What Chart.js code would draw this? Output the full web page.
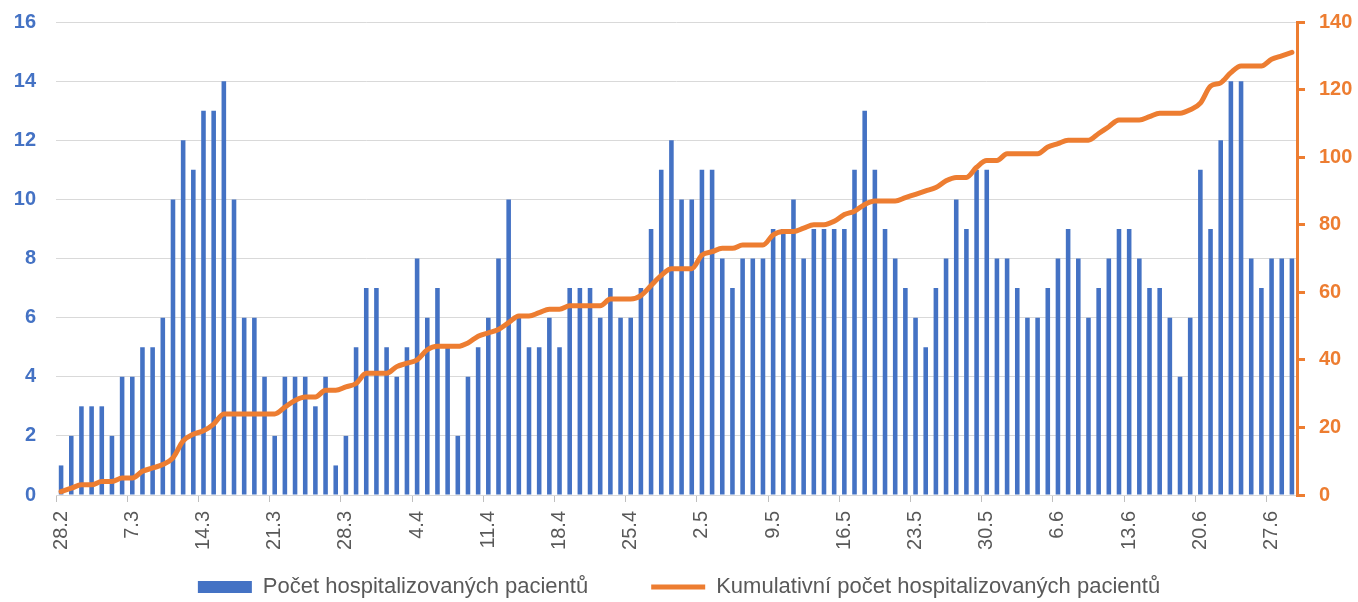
<!DOCTYPE html>
<html lang="cs">
<head>
<meta charset="utf-8">
<title>Hospitalizovaní pacienti</title>
<script src="https://cdn.jsdelivr.net/npm/chart.js@4.4.1/dist/chart.umd.min.js"></script>
<style>
  html, body { margin: 0; padding: 0; background: #ffffff; }
  #wrap { width: 1358px; height: 602px; position: relative; }
</style>
</head>
<body>
<div id="wrap"><canvas id="hosp-chart"></canvas></div>
<script>
// Daily counts (bars) and cumulative line, one value per day from 28.2 to 29.6
const dailyPatients = [
  1, 2, 3, 3, 3, 2, 4, 4, 5, 5, 6, 10, 12, 11, 13, 13, 14, 10, 6, 6,
  4, 2, 4, 4, 4, 3, 4, 1, 2, 5, 7, 7, 5, 4, 5, 8, 6, 7, 5, 2, 4,
  5, 6, 8, 10, 6, 5, 5, 6, 5, 7, 7, 7, 6, 7, 6, 6, 7, 9, 11, 12, 10,
  10, 11, 11, 8, 7, 8, 8, 8, 9, 9, 10, 8, 9, 9, 9, 9, 11, 13, 11, 9,
  8, 7, 6, 5, 7, 8, 10, 9, 11, 11, 8, 8, 7, 6, 6, 7, 8, 9, 8, 6, 7,
  8, 9, 9, 8, 7, 7, 6, 4, 6, 11, 9, 12, 14, 14, 8, 7, 8, 8, 8
];

const cumulativePatients = [
  1, 2, 3, 3, 4, 4, 5, 5, 7, 8, 9, 11, 16, 18, 19, 21, 24, 24, 24, 24,
  24, 24, 26, 28, 29, 29, 31, 31, 32, 33, 36, 36, 36, 38, 39, 40, 43, 44, 44, 44, 45,
  47, 48, 49, 51, 53, 53, 54, 55, 55, 56, 56, 56, 56, 58, 58, 58, 59, 62, 65, 67, 67,
  67, 71, 72, 73, 73, 74, 74, 74, 77, 78, 78, 79, 80, 80, 81, 83, 84, 86, 87, 87,
  87, 88, 89, 90, 91, 93, 94, 94, 97, 99, 99, 101, 101, 101, 101, 103, 104, 105, 105, 105, 107,
  109, 111, 111, 111, 112, 113, 113, 113, 114, 116, 121, 122, 125, 127, 127, 127, 129, 130, 131
];

const seriesNames = ['Počet hospitalizovaných pacientů', 'Kumulativní počet hospitalizovaných pacientů'];

// Day labels "d.m", every day from 28.2.
const dayLabels = [];
const startDay = new Date(2021, 1, 28);
for (let i = 0; i < dailyPatients.length; i++) {
  const d = new Date(startDay);
  d.setDate(startDay.getDate() + i);
  dayLabels.push(d.getDate() + '.' + (d.getMonth() + 1));
}

const BLUE = '#4472C4';
const ORANGE = '#ED7D31';
const GRID = '#d9d9d9';
const TEXT = '#595959';

Chart.defaults.font.family = "'Liberation Sans', Arial, sans-serif";

const ctx = document.getElementById('hosp-chart').getContext('2d');
window.hospChart = new Chart(ctx, {
  data: {
    labels: dayLabels,
    datasets: [
      {
        type: 'bar',
        label: seriesNames[0],
        data: dailyPatients,
        backgroundColor: BLUE,
        borderWidth: 0,
        barPercentage: 0.45,
        categoryPercentage: 1,
        pointStyle: 'rect',
        yAxisID: 'y',
        order: 1
      },
      {
        type: 'line',
        label: seriesNames[1],
        data: cumulativePatients,
        borderColor: ORANGE,
        backgroundColor: ORANGE,
        borderWidth: 5,
        pointRadius: 0,
        pointHoverRadius: 0,
        cubicInterpolationMode: 'monotone',
        borderCapStyle: 'round',
        borderJoinStyle: 'round',
        pointStyle: 'line',
        yAxisID: 'y1',
        order: 0
      }
    ]
  },
  options: {
    responsive: true,
    maintainAspectRatio: false,
    animation: false,
    layout: {
      padding: { top: 22, left: 0, right: 0, bottom: -6 }
    },
    scales: {
      x: {
        offset: true,
        grid: {
          display: true,
          drawOnChartArea: false,
          offset: true,
          tickLength: 7,
          color: (c) => (c.index % 7 === 0 ? '#bfbfbf' : 'transparent')
        },
        border: { display: true, color: GRID, width: 1 },
        ticks: {
          autoSkip: false,
          maxRotation: 90,
          minRotation: 90,
          padding: 9,
          color: TEXT,
          font: { size: 20 },
          callback: function (value, index) {
            return index % 7 === 0 ? this.getLabelForValue(value) : '';
          }
        },
        // leaves room for the legend so the plot bottom lands near y=494
        afterFit: (scale) => { scale.height = 73; }
      },
      y: {
        position: 'left',
        min: 0,
        max: 16,
        // invisible 20px ticks instead of label padding (padding also pads the top)
        grid: { color: GRID, lineWidth: 1, drawTicks: true, tickLength: 20, tickColor: 'transparent' },
        border: { display: false },
        ticks: {
          stepSize: 2,
          padding: 0,
          color: BLUE,
          font: { size: 20, weight: 'bold' }
        },
        afterFit: (scale) => { scale.width = 56; }
      },
      y1: {
        position: 'right',
        min: 0,
        max: 140,
        grid: {
          display: true,
          drawOnChartArea: false,
          color: ORANGE,
          lineWidth: 3,
          tickLength: 8
        },
        border: { display: true, color: ORANGE, width: 3 },
        ticks: {
          stepSize: 20,
          padding: 14,
          color: ORANGE,
          font: { size: 20, weight: 'bold', lineHeight: 0.8 }
        },
        afterFit: (scale) => { scale.width = 61; }
      }
    },
    plugins: {
      legend: {
        position: 'bottom',
        labels: {
          usePointStyle: true,
          pointStyleWidth: 54,
          boxHeight: 12,
          padding: 8,
          color: TEXT,
          font: { size: 22 },
          sort: (a, b) => a.datasetIndex - b.datasetIndex,
          generateLabels: (chart) => {
            const items = Chart.defaults.plugins.legend.labels.generateLabels(chart);
            // wider gap between the two legend entries
            items.forEach((item) => {
              if (item.datasetIndex === 0) item.text = item.text + '         ';
            });
            return items;
          }
        }
      },
      tooltip: {
        mode: 'index',
        intersect: false
      }
    }
  }
});
</script>
</body>
</html>
